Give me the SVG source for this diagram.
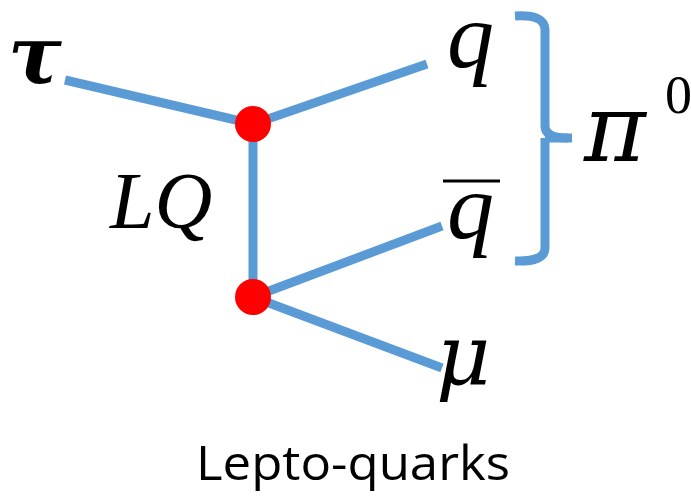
<svg xmlns="http://www.w3.org/2000/svg" width="691" height="496" viewBox="0 0 691 496">
<style>
.ln{stroke:#5b9bd5;stroke-width:9;fill:none;stroke-linecap:butt}
.v{fill:#ff0000}
.m{font-family:"Liberation Serif",serif;font-style:italic;fill:#000}
.g{font-family:"DejaVu Serif","Liberation Serif",serif;font-style:italic;fill:#000}
.c{font-family:"Open Sans","Liberation Sans",sans-serif;fill:#000}
</style>
<rect width="691" height="496" fill="#fff"/>
<g id="connectors">
<line class="ln" x1="65" y1="80" x2="253" y2="124"/>
<line class="ln" x1="253" y1="124" x2="427" y2="64"/>
<line class="ln" x1="253" y1="124" x2="253" y2="297"/>
<line class="ln" x1="253" y1="297" x2="442" y2="226"/>
<line class="ln" x1="253" y1="297" x2="442" y2="368"/>
</g>
<g id="bracket">
<path class="ln" d="M515,16 Q545,14 545,30 L545,126 Q545,138 568,138 M545,138 Q545,148 545,150 L545,248 Q545,262 515,261"/>
<line class="ln" x1="545" y1="138" x2="572" y2="138"/>
</g>
<g id="vertex1"><circle class="v" cx="253" cy="124" r="18"/></g>
<g id="vertex2"><circle class="v" cx="253" cy="297" r="18"/></g>
<g id="tau"><text class="g" x="8" y="83" font-size="80" font-weight="bold">τ</text></g>
<g id="q"><text class="m" x="447" y="67" font-size="94">q</text></g>
<g id="qbar"><line x1="443" y1="181" x2="500" y2="181" stroke="#000" stroke-width="3"/><text class="m" x="447" y="238" font-size="94">q</text></g>
<g id="pi0"><text class="g" x="584" y="161" font-size="94">π</text><text font-family="Liberation Serif,serif" x="665" y="113" font-size="54">0</text></g>
<g id="LQ"><text class="m" x="110" y="228" font-size="80">LQ</text></g>
<g id="mu"><text class="g" x="436" y="384" font-size="84">μ</text></g>
<g id="caption"><text class="c" x="196" y="480" font-size="48" textLength="314" lengthAdjust="spacingAndGlyphs">Lepto-quarks</text></g>
</svg>
